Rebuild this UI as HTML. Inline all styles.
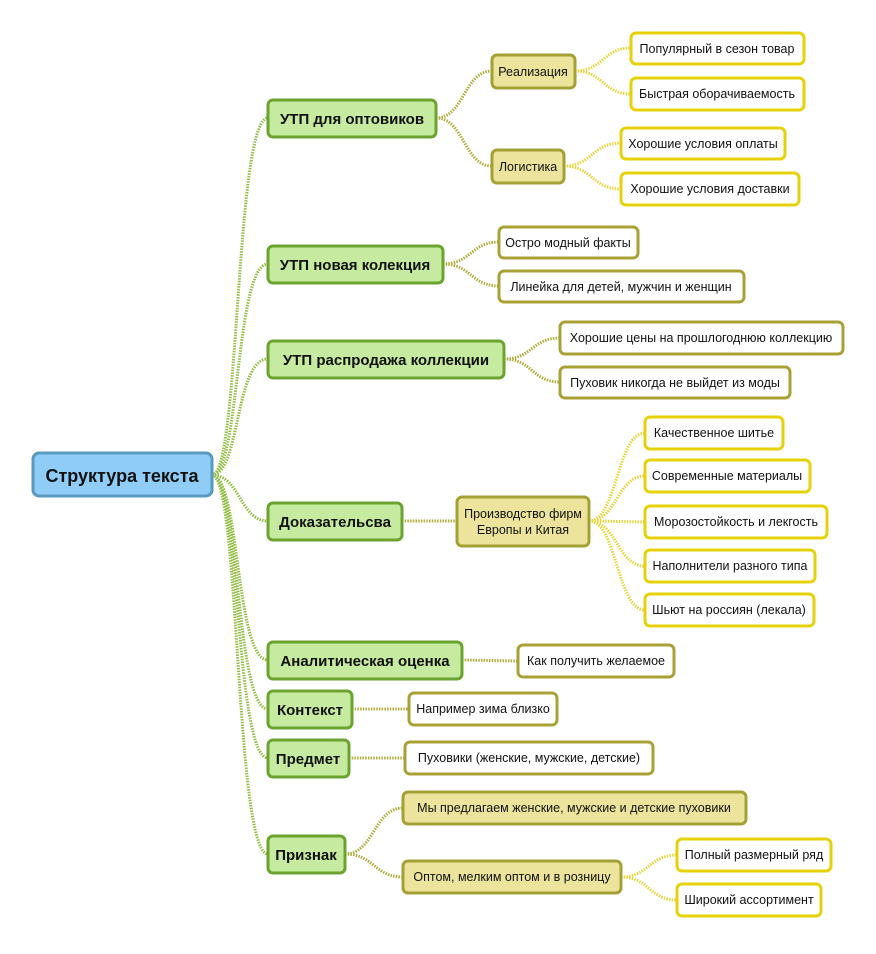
<!DOCTYPE html>
<html><head><meta charset="utf-8"><style>
body{margin:0;background:#fff}
svg text{font-family:"Liberation Sans",Arial,sans-serif;fill:#111}
.g{fill:#c6eba0;stroke:#6ba32f;stroke-width:3}
.t{fill:#ece49c;stroke:#a3a034;stroke-width:3}
.w{fill:#fff;stroke:#a8a236;stroke-width:3}
.y{fill:#fff;stroke:#e6d10a;stroke-width:3}
.b{font-weight:bold;font-size:15px}
.s{font-size:12.5px}
path{fill:none;stroke-width:3;stroke-dasharray:1.5 1.2}
.lg{stroke:#93bd45}.lt{stroke:#b2ae3e}.ly{stroke:#e6d640}
</style></head><body>
<svg width="876" height="949" viewBox="0 0 876 949" xmlns="http://www.w3.org/2000/svg">
<!-- connectors -->
<g class="lg">
<path class="lg" d="M212 475 C240 475 235 118 268 118"/>
<path class="lg" d="M212 475 C240 475 235 264 268 264"/>
<path class="lg" d="M212 475 C240 475 235 359 268 359"/>
<path class="lg" d="M212 475 C240 475 240 521 268 521"/>
<path class="lg" d="M212 475 C240 475 235 660 268 660"/>
<path class="lg" d="M212 475 C240 475 235 709 268 709"/>
<path class="lg" d="M212 475 C240 475 235 758 268 758"/>
<path class="lg" d="M212 475 C240 475 235 854 268 854"/>
</g>
<path class="lt" d="M436 118 C464 118 464 71 492 71"/>
<path class="lt" d="M436 118 C464 118 464 166 492 166"/>
<path class="ly" d="M575 71 C603 71 603 48 631 48"/>
<path class="ly" d="M575 71 C603 71 603 94 631 94"/>
<path class="ly" d="M564 166 C592 166 592 143 621 143"/>
<path class="ly" d="M564 166 C592 166 592 189 621 189"/>
<path class="lt" d="M443 264 C471 264 471 242 499 242"/>
<path class="lt" d="M443 264 C471 264 471 286 499 286"/>
<path class="lt" d="M504 359 C532 359 532 338 560 338"/>
<path class="lt" d="M504 359 C532 359 532 382 560 382"/>
<path class="lt" d="M402 521 L457 521"/>
<path class="ly" d="M589 521 C617 521 617 433 645 433"/>
<path class="ly" d="M589 521 C617 521 617 476 645 476"/>
<path class="ly" d="M589 521 L645 522"/>
<path class="ly" d="M589 521 C617 521 617 566 645 566"/>
<path class="ly" d="M589 521 C617 521 617 610 645 610"/>
<path class="lt" d="M462 660 L518 661"/>
<path class="lt" d="M352 709 L409 709"/>
<path class="lt" d="M349 758 L405 758"/>
<path class="lt" d="M345 854 C374 854 374 808 403 808"/>
<path class="lt" d="M345 854 C374 854 374 877 403 877"/>
<path class="ly" d="M621 877 C649 877 649 855 677 855"/>
<path class="ly" d="M621 877 C649 877 649 900 677 900"/>

<!-- root -->
<rect x="33" y="453" width="179" height="43" rx="6" fill="#8fcdf7" stroke="#5a9ac0" stroke-width="3"/>
<text x="122" y="482" text-anchor="middle" font-size="18" font-weight="bold">Структура текста</text>

<!-- green -->
<rect class="g" x="268" y="100" width="168" height="37" rx="5"/><text class="b" x="352" y="124" text-anchor="middle">УТП для оптовиков</text>
<rect class="g" x="268" y="246" width="175" height="37" rx="5"/><text class="b" x="355" y="270" text-anchor="middle">УТП новая колекция</text>
<rect class="g" x="268" y="341" width="236" height="37" rx="5"/><text class="b" x="386" y="365" text-anchor="middle">УТП распродажа коллекции</text>
<rect class="g" x="268" y="503" width="134" height="37" rx="5"/><text class="b" x="335" y="527" text-anchor="middle">Доказательсва</text>
<rect class="g" x="268" y="642" width="194" height="37" rx="5"/><text class="b" x="365" y="666" text-anchor="middle">Аналитическая оценка</text>
<rect class="g" x="268" y="691" width="84" height="37" rx="5"/><text class="b" x="310" y="715" text-anchor="middle">Контекст</text>
<rect class="g" x="268" y="740" width="81" height="37" rx="5"/><text class="b" x="308" y="764" text-anchor="middle">Предмет</text>
<rect class="g" x="268" y="836" width="77" height="37" rx="5"/><text class="b" x="306" y="860" text-anchor="middle">Признак</text>

<!-- tan -->
<rect class="t" x="492" y="55" width="83" height="33" rx="5"/><text class="s" x="533" y="76" text-anchor="middle">Реализация</text>
<rect class="t" x="492" y="150" width="72" height="33" rx="5"/><text class="s" x="528" y="171" text-anchor="middle">Логистика</text>
<rect class="t" x="457" y="497" width="132" height="49" rx="5"/><text class="s" x="523" y="518" text-anchor="middle">Производство фирм</text><text class="s" x="523" y="534" text-anchor="middle">Европы и Китая</text>
<rect class="t" x="403" y="792" width="343" height="32" rx="5"/><text class="s" x="574" y="812" text-anchor="middle">Мы предлагаем женские, мужские и детские пуховики</text>
<rect class="t" x="403" y="861" width="218" height="32" rx="5"/><text class="s" x="512" y="881" text-anchor="middle">Оптом, мелким оптом и в розницу</text>

<!-- white olive -->
<rect class="w" x="499" y="227" width="139" height="31" rx="5"/><text class="s" x="568" y="247" text-anchor="middle">Остро модный факты</text>
<rect class="w" x="499" y="271" width="245" height="31" rx="5"/><text class="s" x="621" y="291" text-anchor="middle">Линейка для детей, мужчин и женщин</text>
<rect class="w" x="560" y="322" width="283" height="32" rx="5"/><text class="s" x="701" y="342" text-anchor="middle">Хорошие цены на прошлогоднюю коллекцию</text>
<rect class="w" x="560" y="367" width="230" height="31" rx="5"/><text class="s" x="675" y="387" text-anchor="middle">Пуховик никогда не выйдет из моды</text>
<rect class="w" x="518" y="645" width="156" height="32" rx="5"/><text class="s" x="596" y="665" text-anchor="middle">Как получить желаемое</text>
<rect class="w" x="409" y="693" width="148" height="32" rx="5"/><text class="s" x="483" y="713" text-anchor="middle">Например зима близко</text>
<rect class="w" x="405" y="742" width="248" height="32" rx="5"/><text class="s" x="529" y="762" text-anchor="middle">Пуховики (женские, мужские, детские)</text>

<!-- white yellow -->
<rect class="y" x="631" y="33" width="173" height="31" rx="5"/><text class="s" x="717" y="53" text-anchor="middle">Популярный в сезон товар</text>
<rect class="y" x="631" y="78" width="173" height="32" rx="5"/><text class="s" x="717" y="98" text-anchor="middle">Быстрая оборачиваемость</text>
<rect class="y" x="621" y="128" width="164" height="31" rx="5"/><text class="s" x="703" y="148" text-anchor="middle">Хорошие условия оплаты</text>
<rect class="y" x="621" y="173" width="178" height="32" rx="5"/><text class="s" x="710" y="193" text-anchor="middle">Хорошие условия доставки</text>
<rect class="y" x="645" y="417" width="138" height="32" rx="5"/><text class="s" x="714" y="437" text-anchor="middle">Качественное шитье</text>
<rect class="y" x="645" y="460" width="165" height="32" rx="5"/><text class="s" x="727" y="480" text-anchor="middle">Современные материалы</text>
<rect class="y" x="645" y="506" width="182" height="32" rx="5"/><text class="s" x="736" y="526" text-anchor="middle">Морозостойкость и лекгость</text>
<rect class="y" x="645" y="550" width="170" height="32" rx="5"/><text class="s" x="730" y="570" text-anchor="middle">Наполнители разного типа</text>
<rect class="y" x="645" y="594" width="169" height="32" rx="5"/><text class="s" x="729" y="614" text-anchor="middle">Шьют на россиян (лекала)</text>
<rect class="y" x="677" y="839" width="154" height="32" rx="5"/><text class="s" x="754" y="859" text-anchor="middle">Полный размерный ряд</text>
<rect class="y" x="677" y="884" width="144" height="32" rx="5"/><text class="s" x="749" y="904" text-anchor="middle">Широкий ассортимент</text>
</svg>
</body></html>
